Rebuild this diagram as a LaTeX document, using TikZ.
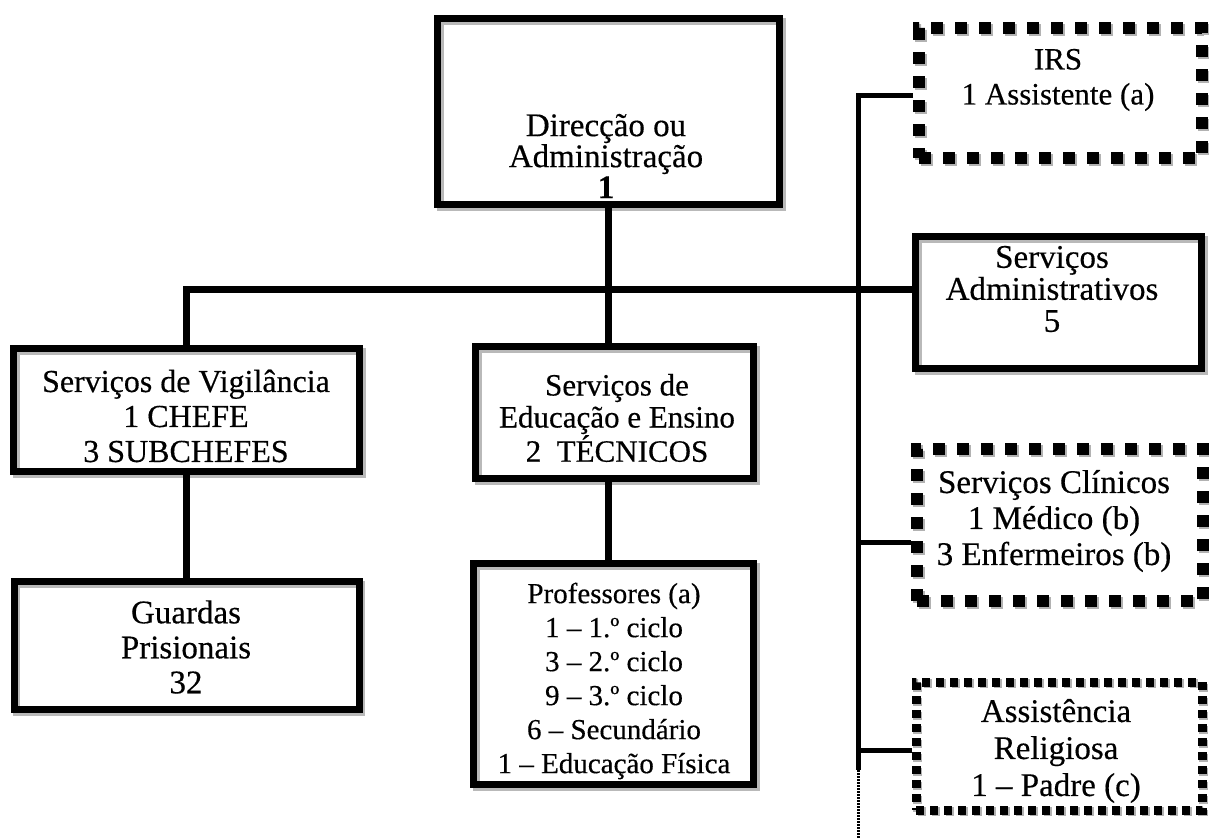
\documentclass[tikz,border=0pt]{standalone}
\usepackage{fontspec}
\setmainfont{Liberation Serif}[FakeBold=0.4]
\begin{document}
\begin{tikzpicture}[x=1pt,y=-1pt,
  sbox/.style={rectangle, draw=black, line width=7pt, inner sep=0pt,
    preaction={draw=gray!55, line width=7pt, transform canvas={shift={(2.5pt,-2.5pt)}}}},
  bigdots/.style={rectangle, draw=black, line width=12pt, inner sep=0pt, dash pattern=on 12pt off 12pt,
    preaction={draw=gray!60, line width=12pt, dash pattern=on 12pt off 12pt, transform canvas={shift={(2pt,-2pt)}}}},
  smalldots/.style={rectangle, draw=black, line width=9pt, inner sep=0pt, dash pattern=on 8pt off 6pt,
    preaction={draw=gray!60, line width=9pt, dash pattern=on 8pt off 6pt, transform canvas={shift={(1.5pt,-1.5pt)}}}},
  txt/.style={align=center, inner sep=0pt},
  conn/.style={draw=black, line width=7pt},
  rconn/.style={draw=black, line width=5pt},
  dotline/.style={draw=black, line width=3pt, dash pattern=on 1.5pt off 1.5pt}
]
\useasboundingbox (0,0) rectangle (1209,838);

% boxes
\node[sbox, minimum width=342pt, minimum height=186pt] (dir) at (608.5,111.5) {};
\node[sbox, minimum width=286pt, minimum height=132pt] (adm) at (1058.5,302.5) {};
\node[sbox, minimum width=346pt, minimum height=123pt] (vig) at (186.5,410) {};
\node[sbox, minimum width=345pt, minimum height=128pt] (guardas) at (186.5,645.5) {};
\node[sbox, minimum width=278pt, minimum height=132pt] (edu) at (614.5,412.5) {};
\node[sbox, minimum width=280pt, minimum height=221pt] (prof) at (613.5,674) {};
\node[bigdots, minimum width=283pt, minimum height=130pt] (irs) at (1060.5,93) {};
\node[bigdots, minimum width=286pt, minimum height=152pt] (clin) at (1060,525) {};
\node[smalldots, minimum width=286pt, minimum height=128pt] (assist) at (1059,746) {};

% texts
\node[txt, font=\fontsize{33pt}{31pt}\selectfont] (tdir) at (606,156) {Direcção ou\\Administração\\\textbf{1}};
\node[txt, font=\fontsize{33pt}{32pt}\selectfont] (tadm) at (1052,289) {Serviços\\Administrativos\\5};
\node[txt, font=\fontsize{31pt}{35pt}\selectfont] (tirs) at (1058,80) {IRS\\1 Assistente (a)};
\node[txt, font=\fontsize{32pt}{35pt}\selectfont] (tvig) at (186,416) {Serviços de Vigilância\\1 CHEFE\\3 SUBCHEFES};
\node[txt, font=\fontsize{33pt}{35pt}\selectfont] (tguardas) at (186,647) {Guardas\\Prisionais\\32};
\node[txt, font=\fontsize{31pt}{32pt}\selectfont] (tedu) at (617,418) {Serviços de\\Educação e Ensino\\2\ \ TÉCNICOS};
\node[txt, font=\fontsize{29pt}{34pt}\selectfont] (tprof) at (614,681) {Professores (a)\\1 – 1.º ciclo\\3 – 2.º ciclo\\9 – 3.º ciclo\\6 – Secundário\\1 – Educação Física};
\node[txt, font=\fontsize{33pt}{36pt}\selectfont] (tclin) at (1054,521) {Serviços Clínicos\\1 Médico (b)\\3 Enfermeiros (b)};
\node[txt, font=\fontsize{33pt}{37pt}\selectfont] (tassist) at (1056,751) {Assistência\\Religiosa\\1 – Padre (c)};

% connectors
\coordinate (hub) at (186.5,289);
\draw[conn] (vig.north) -- (hub) -- (hub -| adm.west);
\draw[conn] (dir.south) -- (dir.south |- edu.north);
\draw[conn] (dir.south |- edu.south) -- (dir.south |- prof.north);
\draw[conn] (vig.south) -- (guardas.north);

\coordinate (rtop) at (858,95);
\coordinate (rbot) at (858,770);
\coordinate (rend) at (858,838);
\coordinate (cj) at ([yshift=-17pt]clin.west);
\coordinate (aj) at ([yshift=-4pt]assist.west);
\draw[rconn] (irs.west |- rtop) -- (rtop) -- (rbot);
\draw[rconn] (cj) -- (cj -| rbot);
\draw[rconn] (aj) -- (aj -| rbot);
\draw[dotline] (rbot) -- (rend);
\end{tikzpicture}
\end{document}
